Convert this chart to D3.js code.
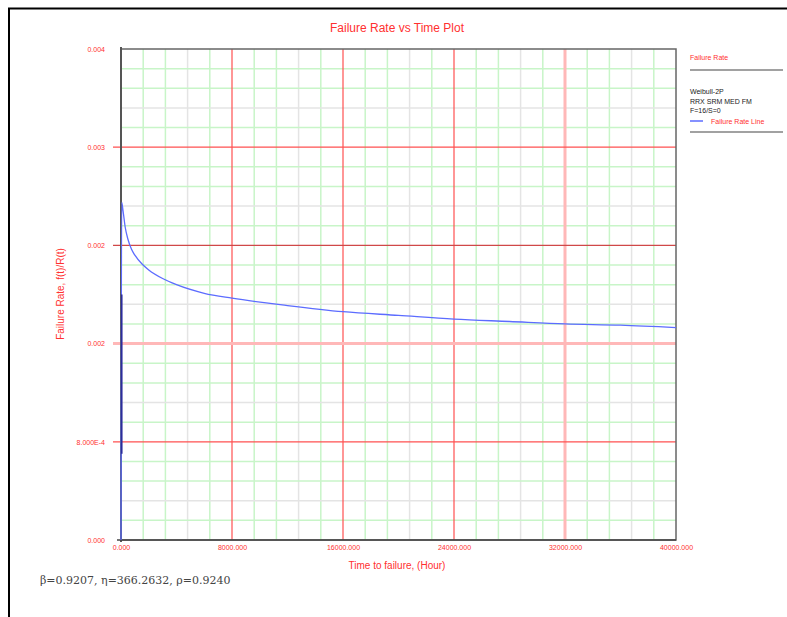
<!DOCTYPE html>
<html><head><meta charset="utf-8">
<script src="https://cdn.jsdelivr.net/npm/d3@7"></script>
<style>body{margin:0;background:#fff;}svg{display:block;font-family:"Liberation Sans",Arial,sans-serif;}</style>
</head><body><svg id="c" width="787" height="617"></svg>
<script>
const title = "Failure Rate vs Time Plot";
const xTitle = "Time to failure, (Hour)";
const yTitle = "Failure Rate, f(t)/R(t)";
const xTicks = [0, 8000, 16000, 24000, 32000, 40000];
const xTickLabels = ["0.000", "8000.000", "16000.000", "24000.000", "32000.000", "40000.000"];
const yTicks = [0, 0.0008, 0.0016, 0.0024, 0.0032, 0.004];
const yTickLabels = ["0.000", "8.000E-4", "0.002", "0.002", "0.003", "0.004"];
const timeValues = [0, 50, 150, 300, 500, 750, 1000, 1500, 2000, 3000, 4000, 6000, 8000, 12000, 16000, 20000, 24000, 28000, 32000, 36000, 40000];
const rateValues = [0, 0.00275, 0.00268, 0.00255, 0.00245, 0.00237, 0.00232, 0.00225, 0.00220, 0.00213, 0.00208, 0.00201, 0.00197, 0.00191, 0.00186, 0.00183, 0.00180, 0.00178, 0.00176, 0.00175, 0.00173];
const legendTitle = "Failure Rate";
const legendInfo = ["Weibull-2P", "RRX SRM MED FM", "F=16/S=0"];
const legendItem = "Failure Rate Line";
const paramText = "\u03B2=0.9207, \u03B7=366.2632, \u03C1=0.9240";

const svg = d3.select("#c");
const L = 121, R = 676, T = 49, B = 540;
const x = d3.scaleLinear().domain([0, 40000]).range([L, R]);
const y = d3.scaleLinear().domain([0, 0.004]).range([B, T]);

// outer frame
svg.append("line").attr("x1", 8).attr("x2", 787).attr("y1", 8.5).attr("y2", 8.5).attr("stroke", "#000").attr("stroke-width", 2);
svg.append("line").attr("x1", 9).attr("x2", 9).attr("y1", 8).attr("y2", 617).attr("stroke", "#000").attr("stroke-width", 2);

// minor grid
const minorColor = i => (i % 5 === 3 ? "#e4e4e4" : "#c8f5c8");
const xMinor = d3.range(0, 40001, 1600);
const yMinor = d3.range(0, 26).map(i => i * 0.00016);
const g = svg.append("g");
xMinor.forEach((v, i) => { if (i % 5 !== 0) g.append("line").attr("x1", x(v)).attr("x2", x(v)).attr("y1", T).attr("y2", B).attr("stroke", minorColor(i)).attr("stroke-width", 1.5); });
yMinor.forEach((v, i) => { if (i % 5 !== 0) g.append("line").attr("x1", L).attr("x2", R).attr("y1", y(v)).attr("y2", y(v)).attr("stroke", minorColor(5 - (i % 5))).attr("stroke-width", 1.5); });

// major grid
const majorStyle = (i, n) => (i === 4 && n === "x") || (i === 2 && n === "y") ? ["#ffb8b8", 3] : (n === "y" && i === 3 ? ["#d04848", 1.2] : ["#ff5050", 1.2]);
xTicks.forEach((v, i) => { if (i > 0 && i < xTicks.length - 1) { const s = majorStyle(i, "x"); g.append("line").attr("x1", x(v)).attr("x2", x(v)).attr("y1", T).attr("y2", B).attr("stroke", s[0]).attr("stroke-width", s[1]); } });
yTicks.forEach((v, i) => { if (i > 0 && i < yTicks.length - 1) { const s = majorStyle(i, "y"); g.append("line").attr("x1", L - 8).attr("x2", R).attr("y1", y(v)).attr("y2", y(v)).attr("stroke", s[0]).attr("stroke-width", s[1]); } });

// plot border
svg.append("rect").attr("x", L).attr("y", T).attr("width", R - L).attr("height", B - T).attr("fill", "none").attr("stroke", "#666").attr("stroke-width", 1.5);
svg.append("line").attr("x1", L).attr("x2", L).attr("y1", T - 2).attr("y2", B + 2).attr("stroke", "#555").attr("stroke-width", 2);
svg.append("line").attr("x1", L - 4).attr("x2", R).attr("y1", B).attr("y2", B).attr("stroke", "#444").attr("stroke-width", 1.5);

// axes via d3
const xAxis = d3.axisBottom(x).tickValues(xTicks).tickSize(0).tickPadding(5).tickFormat((d, i) => xTickLabels[i]);
const ax = svg.append("g").attr("transform", `translate(0,${B})`).call(xAxis);
ax.select(".domain").remove();
ax.selectAll("text").attr("fill", "#ff3030").attr("font-size", 7);
const yAxis = d3.axisLeft(y).tickValues(yTicks).tickSize(0).tickPadding(16).tickFormat((d, i) => yTickLabels[i]);
const ay = svg.append("g").attr("transform", `translate(${L},0)`).call(yAxis);
ay.select(".domain").remove();
ay.selectAll("text").attr("fill", "#ff3030").attr("font-size", 7);

// curve
const pts = timeValues.map((t, i) => [t, rateValues[i]]);
svg.append("path").datum(pts).attr("fill", "none").attr("stroke", "#5c6cff").attr("stroke-width", 1.3)
  .attr("d", d3.line().x(d => x(d[0])).y(d => y(d[1])).curve(d3.curveMonotoneX));
// darker overlap with the axis on the vertical start segment
svg.append("line").attr("x1", x(timeValues[0]) + 0.8).attr("x2", x(timeValues[0]) + 0.8).attr("y1", y(0.0008) + 12).attr("y2", y(0.002)).attr("stroke", "#2a2a9a").attr("stroke-width", 1.5);

// titles
svg.append("text").attr("x", 397).attr("y", 32).attr("text-anchor", "middle").attr("fill", "#ff3030").attr("font-size", 12).text(title);
svg.append("text").attr("x", 397).attr("y", 569).attr("text-anchor", "middle").attr("fill", "#ff3030").attr("font-size", 10).text(xTitle);
svg.append("text").attr("transform", "translate(64,294) rotate(-90)").attr("text-anchor", "middle").attr("fill", "#ff3030").attr("font-size", 10).text(yTitle);
svg.append("text").attr("x", 40).attr("y", 584).attr("fill", "#444").attr("font-size", 11).attr("font-family", "'DejaVu Serif','Liberation Serif',serif").text(paramText);

// legend
const lg = svg.append("g");
lg.append("text").attr("x", 690).attr("y", 60).attr("fill", "#ff3030").attr("font-size", 7).text(legendTitle);
lg.append("line").attr("x1", 690).attr("x2", 783).attr("y1", 70).attr("y2", 70).attr("stroke", "#444").attr("stroke-width", 1.2);
legendInfo.forEach((t, i) => lg.append("text").attr("x", 690).attr("y", 94 + i * 9.5).attr("fill", "#222").attr("font-size", 7).text(t));
lg.append("line").attr("x1", 690).attr("x2", 703).attr("y1", 121).attr("y2", 121).attr("stroke", "#5c6cff").attr("stroke-width", 1.5);
lg.append("text").attr("x", 711).attr("y", 123.5).attr("fill", "#ff3030").attr("font-size", 7).text(legendItem);
lg.append("line").attr("x1", 690).attr("x2", 783).attr("y1", 132).attr("y2", 132).attr("stroke", "#444").attr("stroke-width", 1.2);
</script></body></html>
